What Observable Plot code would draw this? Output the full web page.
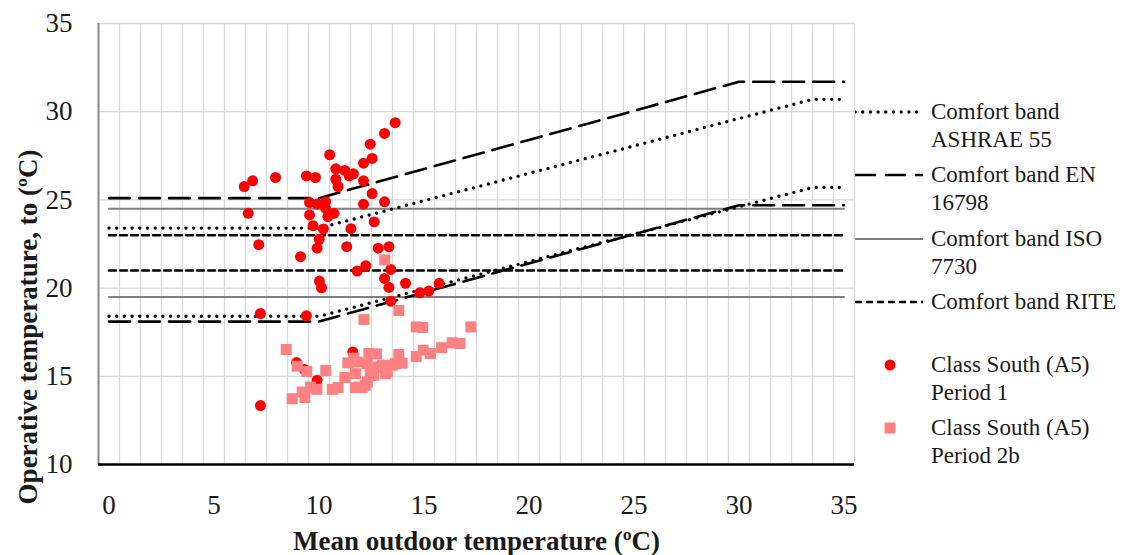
<!DOCTYPE html>
<html><head><meta charset="utf-8">
<script src="https://cdn.jsdelivr.net/npm/d3@7"></script>
<script src="https://cdn.jsdelivr.net/npm/@observablehq/plot@0.6"></script>
<style>
body{margin:0;background:#fff;}
#wrap{position:relative;width:1123px;height:555px;overflow:hidden;font-family:"Liberation Serif",serif;color:#1a1a1a;}
.item{position:absolute;left:855px;}
.item svg{position:absolute;left:0;top:0;}
.item .lab{position:absolute;left:76px;top:0;font-size:23px;line-height:28px;white-space:nowrap;}
</style></head><body><div id="wrap"></div>
<script>
// ---- tick labels / axis values
const xTicks = [0, 5, 10, 15, 20, 25, 30, 35];
const yTicks = [10, 15, 20, 25, 30, 35];
const xGrid = d3.range(0.5, 35.6, 1);

// ---- comfort bands (x = mean outdoor temperature)
const ashraeX = [0, 10, 33.5, 35];
const ashraeUpper = [23.4, 23.4, 30.7, 30.7];
const ashraeLower = [18.4, 18.4, 25.7, 25.7];
const enX = [0, 10, 30, 35];
const enUpper = [25.1, 25.1, 31.7, 31.7];
const enLower = [18.1, 18.1, 24.7, 24.7];
const isoX = [0, 35];
const isoUpper = [24.5, 24.5];
const isoLower = [19.5, 19.5];
const riteX = [0, 35];
const riteUpper = [23, 23];
const riteLower = [21, 21];

// ---- Class South (A5) Period 1: [mean outdoor T, operative T]
const period1 = [
[6.44,25.76],[6.84,26.08],[7.93,26.27],[6.63,24.24],[7.13,22.46],[9.12,21.78],[9.40,26.36],[9.83,26.27],
[10.51,27.56],[10.80,26.76],[10.80,26.17],[10.91,25.76],[11.23,26.67],[11.44,26.36],[11.64,26.48],[12.12,27.08],
[12.12,26.08],[12.53,27.35],[12.44,28.16],[13.12,28.77],[13.63,29.38],[12.53,25.36],[13.12,24.89],[12.12,24.76],
[9.55,24.85],[9.91,24.77],[10.31,24.90],[10.31,24.53],[10.71,24.24],[10.42,24.05],[9.55,24.15],[9.72,23.54],
[10.21,23.35],[10.01,22.77],[9.91,22.26],[11.52,23.37],[11.32,22.35],[12.63,23.75],[12.82,22.26],[13.33,22.35],
[12.23,21.27],[11.82,20.97],[13.42,21.06],[13.12,20.55],[13.33,20.04],[14.12,20.27],[14.80,19.73],[15.23,19.83],
[15.72,20.27],[13.42,19.26],[10.02,20.40],[10.12,20.02],[7.21,18.56],[9.40,18.43],[11.61,16.38],[8.93,15.78],
[9.31,15.38],[9.91,14.77],[7.21,13.34]
];
// ---- Class South (A5) Period 2b
const period2b = [
[8.44,16.52],[12.14,18.22],[13.80,18.73],[14.63,17.80],[14.94,17.77],[17.23,17.80],[13.13,21.60],
[8.96,15.57],[9.42,15.27],[10.32,15.33],[8.72,13.73],[9.33,13.79],[9.20,14.11],[9.60,14.39],[9.90,14.26],
[10.63,14.26],[10.91,14.36],[11.23,14.93],[11.74,14.36],[11.90,14.39],[12.06,14.36],[12.21,14.49],[12.30,14.68],
[11.74,15.15],[11.37,15.76],[11.66,16.03],[11.82,15.81],[12.30,15.72],[12.37,16.29],[12.74,16.27],[12.45,15.06],
[12.69,15.53],[12.61,15.06],[13.01,15.63],[13.17,15.44],[13.17,15.15],[13.25,15.24],[13.49,15.63],[13.80,16.24],
[13.96,15.74],[13.64,15.72],[14.63,16.12],[14.96,16.48],[15.31,16.29],[15.84,16.62],[16.34,16.90],[16.71,16.86],[12.44,15.34]
];

const legendLabels = [
  ["Comfort band", "ASHRAE 55"],
  ["Comfort band EN", "16798"],
  ["Comfort band ISO", "7730"],
  ["Comfort band RITE"],
  ["Class South (A5)", "Period 1"],
  ["Class South (A5)", "Period 2b"]
];

const tbl = (xs, ys) => xs.map((x, i) => ({x, y: ys[i]}));
const styles = {
  ashrae: {stroke: "#000", strokeWidth: 3.4, strokeDasharray: "0 7.7", strokeLinecap: "round"},
  en: {stroke: "#000", strokeWidth: 2.6, strokeDasharray: "21 9"},
  iso: {stroke: "#808080", strokeWidth: 2},
  rite: {stroke: "#000", strokeWidth: 2.5, strokeDasharray: "7 4"}
};

const chart = Plot.plot({
  width: 1123, height: 555,
  marginLeft: 98, marginRight: 269, marginTop: 23, marginBottom: 91,
  style: {fontFamily: "Liberation Serif, serif", color: "#1a1a1a", background: "transparent"},
  x: {domain: [-0.5, 35.5]},
  y: {domain: [10, 35]},
  marks: [
    Plot.gridX(xGrid, {stroke: "#d9d9d9", strokeOpacity: 1, strokeWidth: 1.3}),
    Plot.gridY(yTicks.slice(1), {stroke: "#d9d9d9", strokeOpacity: 1, strokeWidth: 1.3}),
    Plot.ruleX([-0.5], {stroke: "#898989", strokeWidth: 2}),
    Plot.line(tbl(isoX, isoUpper), {x: "x", y: "y", ...styles.iso}),
    Plot.line(tbl(isoX, isoLower), {x: "x", y: "y", ...styles.iso}),
    Plot.line(tbl(riteX, riteUpper), {x: "x", y: "y", ...styles.rite}),
    Plot.line(tbl(riteX, riteLower), {x: "x", y: "y", ...styles.rite}),
    Plot.line(tbl(enX, enUpper), {x: "x", y: "y", ...styles.en}),
    Plot.line(tbl(enX, enLower), {x: "x", y: "y", ...styles.en}),
    Plot.line(tbl(ashraeX, ashraeUpper), {x: "x", y: "y", ...styles.ashrae}),
    Plot.line(tbl(ashraeX, ashraeLower), {x: "x", y: "y", ...styles.ashrae}),
    Plot.dot(period1, {x: d => d[0], y: d => d[1], r: 5.5, fill: "#ff0000", stroke: "none"}),
    Plot.dot(period2b, {x: d => d[0], y: d => d[1], r: 6.2, symbol: "square", fill: "#ff8080", stroke: "none"}),
    Plot.ruleY([10], {stroke: "#000", strokeWidth: 2.5}),
    Plot.axisX({ticks: xTicks, tickSize: 0, tickPadding: 30, fontSize: 27, label: null}),
    Plot.axisY({ticks: yTicks, tickSize: 0, tickPadding: 26, fontSize: 27, label: null}),
    Plot.text(["Mean outdoor temperature (ºC)"], {frameAnchor: "bottom", textAnchor: "middle", dy: 77, fontSize: 27, fontWeight: "bold", lineAnchor: "middle"}),
    Plot.text(["Operative temperature, to (ºC)"], {frameAnchor: "left", textAnchor: "middle", dx: -70, dy: 83, rotate: -90, fontSize: 27, fontWeight: "bold", lineAnchor: "middle"})
  ]
});
const wrap = document.getElementById("wrap");
wrap.appendChild(chart);

// ---- legend (HTML overlay)
const tops = [98, 161, 225, 288, 351, 414];
const sampleFor = i => {
  if (i < 4) {
    const s = [styles.ashrae, styles.en, styles.iso, styles.rite][i];
    return `<svg width="70" height="28"><line x1="0" x2="68" y1="14" y2="14" stroke="${s.stroke}" stroke-width="${s.strokeWidth}" ${s.strokeDasharray ? `stroke-dasharray="${s.strokeDasharray}"` : ""} ${s.strokeLinecap ? `stroke-linecap="${s.strokeLinecap}"` : ""}/></svg>`;
  }
  if (i === 4) return `<svg width="70" height="28"><circle cx="35" cy="14" r="5.5" fill="#ff0000"/></svg>`;
  return `<svg width="70" height="28"><rect x="29.5" y="8.5" width="11" height="11" fill="#ff8080"/></svg>`;
};
legendLabels.forEach((lines, i) => {
  const d = document.createElement("div");
  d.className = "item";
  d.style.top = tops[i] + "px";
  d.innerHTML = sampleFor(i) + `<div class="lab">${lines.join("<br>")}</div>`;
  wrap.appendChild(d);
});
</script>
</body></html>
